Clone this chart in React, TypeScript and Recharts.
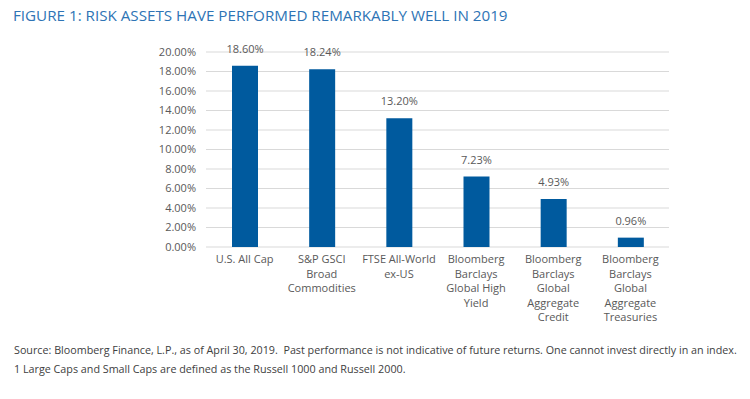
import { Bar, BarChart, CartesianGrid, LabelList, XAxis, YAxis } from "recharts";

const categories = [
  "U.S. All Cap",
  "S&P GSCI\nBroad\nCommodities",
  "FTSE All-World\nex-US",
  "Bloomberg\nBarclays\nGlobal High\nYield",
  "Bloomberg\nBarclays\nGlobal\nAggregate\nCredit",
  "Bloomberg\nBarclays\nGlobal\nAggregate\nTreasuries",
];
const returns2019 = [18.6, 18.24, 13.2, 7.23, 4.93, 0.96];
const yTicks = [0, 2, 4, 6, 8, 10, 12, 14, 16, 18, 20];

const data = categories.map((name, i) => ({ name, value: returns2019[i] }));

const FONT = "'Open Sans', 'Noto Sans', sans-serif";
const GRAY = "#595959";

function MultiLineTick(props: any) {
  const { x, y, payload } = props;
  const lines = String(payload.value).split("\n");
  return (
    <text x={x} y={y} textAnchor="middle" fill={GRAY} fontSize={11} fontFamily={FONT}>
      {lines.map((l, i) => (
        <tspan key={i} x={x} dy={i === 0 ? "0.75em" : 14.5}>
          {l}
        </tspan>
      ))}
    </text>
  );
}

export default function App() {
  return (
    <div style={{ position: "absolute", left: 0, top: 0, width: 750, height: 399, background: "#fff", fontFamily: FONT }}>
      <div style={{ position: "absolute", left: 13, top: 5, fontSize: 15.2, color: "#2e74b5", whiteSpace: "nowrap" }}>
        FIGURE 1: RISK ASSETS HAVE PERFORMED REMARKABLY WELL IN 2019
      </div>
      <div style={{ position: "absolute", top: 0, left: 0 }}>
        <BarChart width={750} height={340} data={data} margin={{ top: 52, right: 81, bottom: 13, left: 0 }}>
          <CartesianGrid vertical={false} stroke="#d9d9d9" />
          <XAxis
            dataKey="name"
            axisLine={false}
            tickLine={false}
            interval={0}
            height={80}
            tick={<MultiLineTick />}
          />
          <YAxis
            width={206}
            domain={[0, 20]}
            ticks={yTicks}
            interval={0}
            axisLine={false}
            tickLine={false}
            tickMargin={4}
            tickFormatter={(v: number) => v.toFixed(2) + "%"}
            tick={{ fill: GRAY, fontSize: 11, fontFamily: FONT }}
          />
          <Bar dataKey="value" fill="#005a9e" barSize={26} isAnimationActive={false}>
            <LabelList
              dataKey="value"
              position="top"
              offset={13}
              formatter={(v: any) => Number(v).toFixed(2) + "%"}
              style={{ fill: GRAY, fontSize: 11, fontFamily: FONT }}
            />
          </Bar>
        </BarChart>
      </div>
      <div style={{ position: "absolute", left: 14, top: 343, fontSize: 10.75, color: "#404040", whiteSpace: "nowrap" }}>
        Source: Bloomberg Finance, L.P., as of April 30, 2019.&nbsp; Past performance is not indicative of future returns. One cannot invest directly in an index.
      </div>
      <div style={{ position: "absolute", left: 14, top: 362, fontSize: 10.75, color: "#404040", whiteSpace: "nowrap" }}>
        1 Large Caps and Small Caps are defined as the Russell 1000 and Russell 2000.
      </div>
    </div>
  );
}
